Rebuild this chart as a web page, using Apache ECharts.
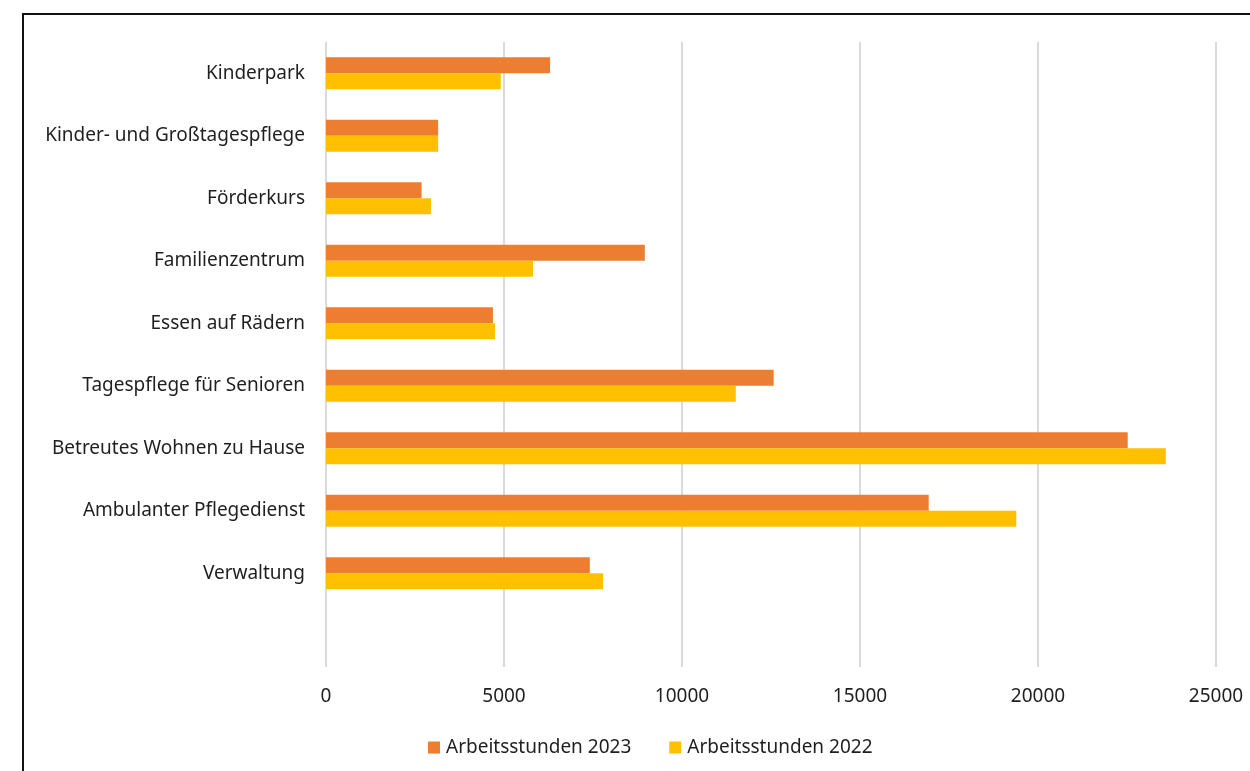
<!DOCTYPE html>
<html>
<head>
<meta charset="utf-8">
<script src="https://cdn.jsdelivr.net/npm/echarts@6/dist/echarts.min.js"></script>
<style>
  html, body { margin: 0; padding: 0; background: #fff; overflow: hidden; }
  #frame {
    position: absolute; left: 22px; top: 13px;
    width: 1300px; height: 800px;
    border: 2px solid #111; box-sizing: border-box;
  }
  #chart { position: absolute; left: 0; top: 0; width: 1250px; height: 771px; }
</style>
</head>
<body>
<div id="frame"></div>
<div id="chart"></div>
<script>
// Kategorien von unten nach oben (unterste Zeile ist leer)
const categories = ['', 'Verwaltung', 'Ambulanter Pflegedienst', 'Betreutes Wohnen zu Hause',
  'Tagespflege für Senioren', 'Essen auf Rädern', 'Familienzentrum', 'Förderkurs',
  'Kinder- und Großtagespflege', 'Kinderpark'];
const stunden2023 = [null, 7410, 16930, 22520, 12575, 4690, 8955, 2685, 3150, 6295];
const stunden2022 = [null, 7785, 19390, 23590, 11510, 4750, 5815, 2950, 3150, 4910];
const xTicks = [0, 5000, 10000, 15000, 20000, 25000];

const textColor = '#1f1f1f';
const fontFam = '"Noto Sans", "Open Sans", sans-serif';

let chart = echarts.init(document.getElementById('chart'));
chart.setOption({
  animation: false,
  grid: { left: 326, right: 34, top: 42, bottom: 104, containLabel: false },
  legend: {
    data: ['Arbeitsstunden 2023', 'Arbeitsstunden 2022'],
    left: 423, top: 733,
    icon: 'rect', itemWidth: 12, itemHeight: 12, itemGap: 38,
    textStyle: { color: textColor, fontSize: 19, fontFamily: fontFam, padding: [0, 0, 0, 1] }
  },
  xAxis: {
    type: 'value',
    min: xTicks[0], max: xTicks[xTicks.length - 1], interval: 5000,
    axisLine: { show: false },
    axisTick: { show: false },
    splitLine: { show: true, lineStyle: { color: '#dadada', width: 2 } },
    axisLabel: { color: textColor, fontSize: 19, fontFamily: fontFam, margin: 20,
      formatter: (v) => String(v) }
  },
  yAxis: {
    type: 'category',
    data: categories,
    axisLine: { show: false },
    axisTick: { show: false },
    axisLabel: { color: textColor, fontSize: 19, fontFamily: fontFam, margin: 21 }
  },
  series: [
    {
      name: 'Arbeitsstunden 2023',
      type: 'bar',
      data: stunden2023,
      barWidth: 16,
      barGap: '0%',
      itemStyle: { color: '#ED7D31' }
    },
    {
      name: 'Arbeitsstunden 2022',
      type: 'bar',
      data: stunden2022,
      barWidth: 16,
      barGap: '0%',
      itemStyle: { color: '#FFC000' }
    }
  ]
});
</script>
</body>
</html>
